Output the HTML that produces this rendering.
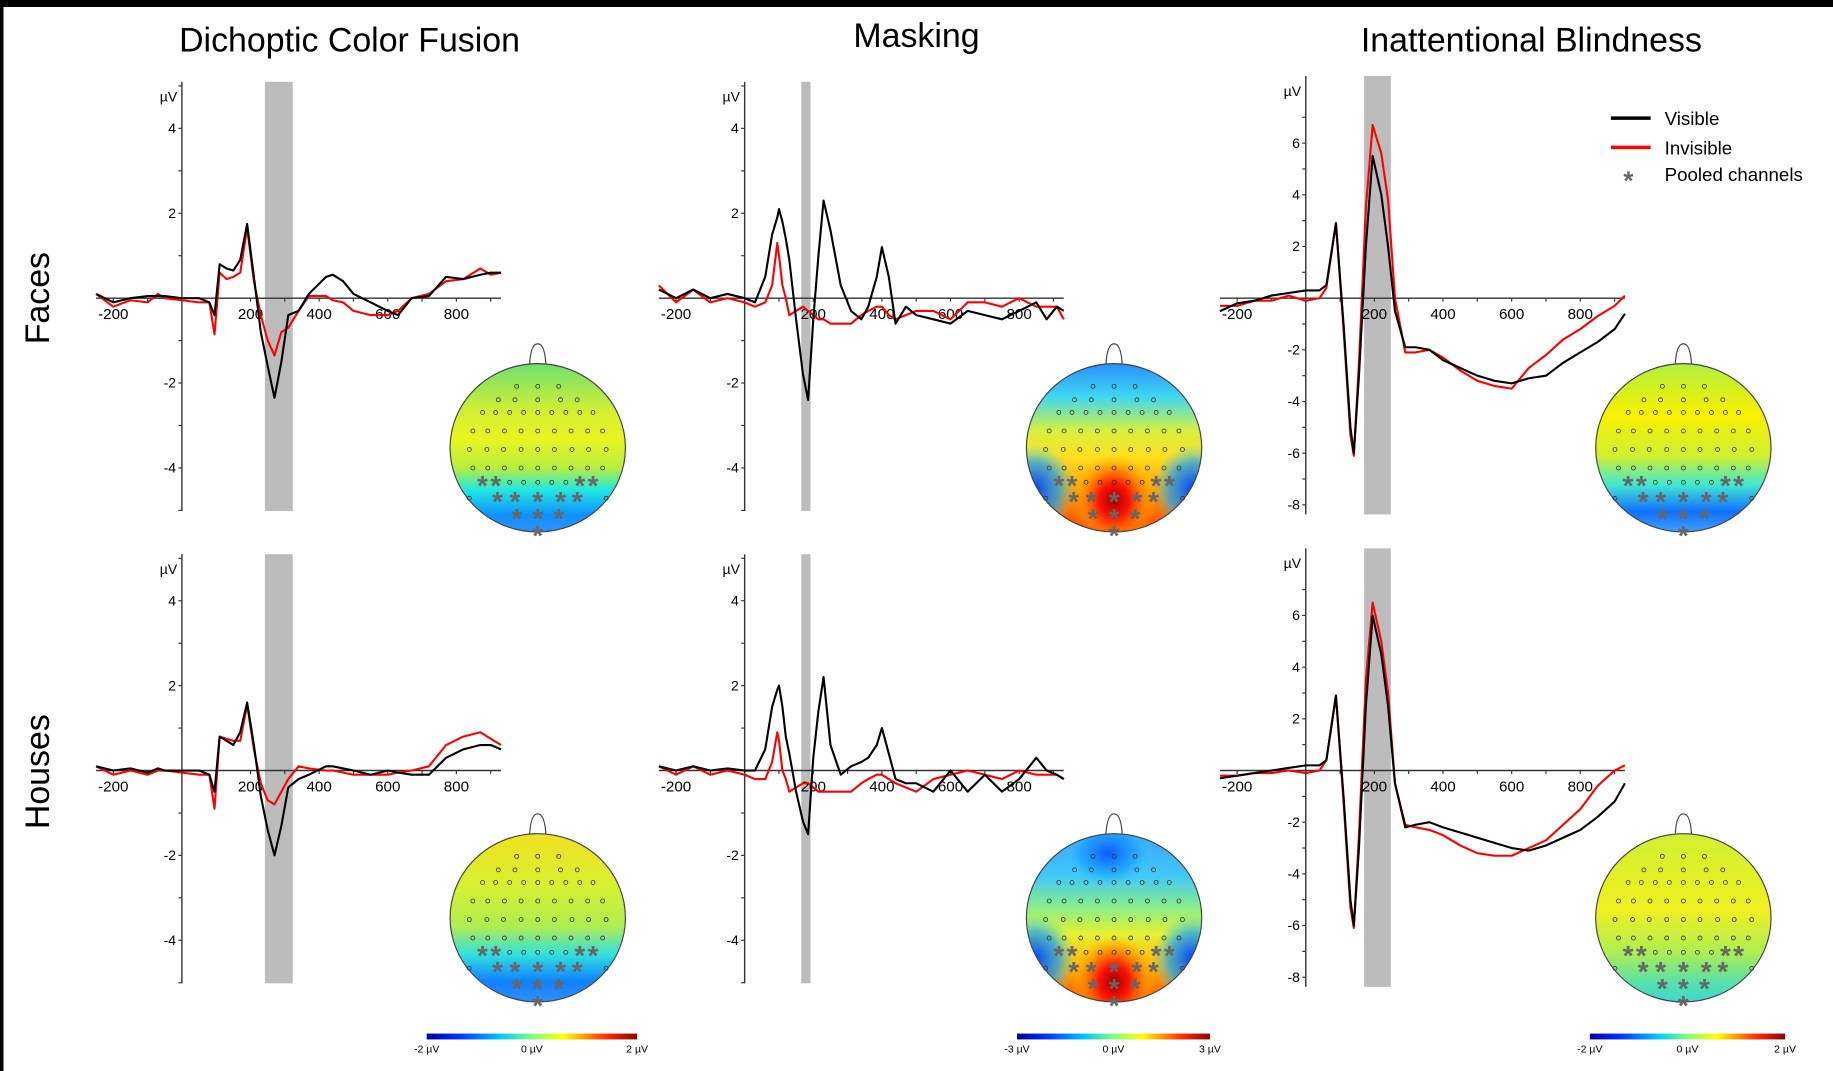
<!DOCTYPE html>
<html><head><meta charset="utf-8"><style>
html,body{margin:0;padding:0;background:#fff;}
svg{display:block;}
text{font-family:"Liberation Sans",sans-serif;}
</style></head><body>
<svg id="fig" width="1833" height="1071" viewBox="0 0 1568 916" preserveAspectRatio="none" xmlns="http://www.w3.org/2000/svg">
<defs>
<linearGradient id="jet" x1="0" x2="1" y1="0" y2="0">
<stop offset="0" stop-color="#0000a0"/><stop offset="0.15" stop-color="#0030ff"/><stop offset="0.35" stop-color="#00c8ff"/><stop offset="0.5" stop-color="#80ff80"/><stop offset="0.65" stop-color="#ffff00"/><stop offset="0.85" stop-color="#ff3000"/><stop offset="1" stop-color="#900000"/>
</linearGradient>
<linearGradient id="gDCF" x1="0" x2="0" y1="0" y2="1">
<stop offset="0" stop-color="#6fe070"/><stop offset="0.3" stop-color="#d8f030"/><stop offset="0.45" stop-color="#e8f420"/><stop offset="0.62" stop-color="#b8ee40"/><stop offset="0.75" stop-color="#20e8e0"/><stop offset="0.9" stop-color="#1090ff"/><stop offset="1" stop-color="#3090ff"/>
</linearGradient>
<linearGradient id="gDCFh" x1="0" x2="0" y1="0" y2="1">
<stop offset="0" stop-color="#f0e020"/><stop offset="0.3" stop-color="#d8f030"/><stop offset="0.55" stop-color="#b0ee50"/><stop offset="0.72" stop-color="#30e0e0"/><stop offset="0.88" stop-color="#1080ff"/><stop offset="1" stop-color="#3090ff"/>
</linearGradient>
<linearGradient id="gMF" x1="0" x2="0" y1="0" y2="1">
<stop offset="0" stop-color="#2890ff"/><stop offset="0.2" stop-color="#40d8f0"/><stop offset="0.4" stop-color="#d8f040"/><stop offset="0.55" stop-color="#ffe020"/><stop offset="0.75" stop-color="#ffa000"/><stop offset="1" stop-color="#ff4000"/>
</linearGradient>
<linearGradient id="gMH" x1="0" x2="0" y1="0" y2="1">
<stop offset="0" stop-color="#40a0ff"/><stop offset="0.25" stop-color="#40c8f8"/><stop offset="0.45" stop-color="#90f080"/><stop offset="0.6" stop-color="#e8f030"/><stop offset="0.8" stop-color="#ffb000"/><stop offset="1" stop-color="#ff5000"/>
</linearGradient>
<linearGradient id="gIB" x1="0" x2="0" y1="0" y2="1">
<stop offset="0" stop-color="#b0f040"/><stop offset="0.3" stop-color="#f8f000"/><stop offset="0.55" stop-color="#d0f030"/><stop offset="0.72" stop-color="#40e8d0"/><stop offset="0.88" stop-color="#1070ff"/><stop offset="1" stop-color="#40a0ff"/>
</linearGradient>
<linearGradient id="gIBh" x1="0" x2="0" y1="0" y2="1">
<stop offset="0" stop-color="#d0f030"/><stop offset="0.45" stop-color="#f0f020"/><stop offset="0.7" stop-color="#b0ee50"/><stop offset="0.9" stop-color="#50e0b0"/><stop offset="1" stop-color="#40d8d0"/>
</linearGradient>
<radialGradient id="redBlob" cx="0.5" cy="0.5" r="0.5">
<stop offset="0" stop-color="#a00000"/><stop offset="0.35" stop-color="#ff1000"/><stop offset="0.7" stop-color="#ff8000" stop-opacity="0.7"/><stop offset="1" stop-color="#ffc000" stop-opacity="0"/>
</radialGradient>
<radialGradient id="blueBlob" cx="0.5" cy="0.5" r="0.5">
<stop offset="0" stop-color="#0040ff"/><stop offset="0.6" stop-color="#10a0ff" stop-opacity="0.7"/><stop offset="1" stop-color="#40e0ff" stop-opacity="0"/>
</radialGradient>
</defs>
<rect x="0" y="0" width="1568" height="916" fill="#fff"/>
<rect x="0" y="0" width="1568" height="6" fill="#000"/>
<rect x="0" y="0" width="3" height="916" fill="#000"/>
<text x="299" y="44" font-size="29" text-anchor="middle">Dichoptic Color Fusion</text>
<text x="784" y="40" font-size="29" text-anchor="middle">Masking</text>
<text x="1310" y="44" font-size="29" text-anchor="middle">Inattentional Blindness</text>
<text transform="translate(42,255) rotate(-90)" font-size="29" text-anchor="middle">Faces</text>
<text transform="translate(42,660) rotate(-90)" font-size="29" text-anchor="middle">Houses</text>
<g id="legend">
<line x1="1378" y1="101" x2="1412" y2="101" stroke="#000" stroke-width="3"/>
<text x="1424" y="107" font-size="16">Visible</text>
<line x1="1378" y1="126" x2="1412" y2="126" stroke="#f00" stroke-width="3"/>
<text x="1424" y="132" font-size="16">Invisible</text>
<text x="1393" y="162" font-size="22" font-weight="bold" fill="#666" text-anchor="middle">*</text>
<text x="1424" y="155" font-size="16">Pooled channels</text>
</g>
</svg>
<script>
// ---- data ----
const t1 = [-250,-200,-150,-100,-70,-50,0,50,80,95,110,130,150,170,190,210,230,250,270,290,310,340,370,420,440,470,500,550,600,630,670,720,770,820,870,900,930];
const p1Visible = [0.1,-0.1,0,0.05,0.05,0.05,0,0,-0.1,-0.4,0.8,0.7,0.65,0.9,1.75,0.5,-0.8,-1.6,-2.35,-1.5,-0.4,-0.3,0.1,0.5,0.55,0.4,0.1,-0.1,-0.3,-0.4,0,0.05,0.5,0.45,0.55,0.6,0.6];
const p1Invisible = [0.1,-0.2,-0.05,-0.1,0.1,0,-0.05,-0.1,-0.1,-0.85,0.6,0.45,0.5,0.6,1.65,0.4,-0.4,-1.0,-1.35,-0.8,-0.7,-0.3,0.05,0.05,-0.05,-0.1,-0.3,-0.4,-0.4,-0.3,0,0.1,0.4,0.45,0.7,0.55,0.6];
const t2 = [-250,-200,-150,-100,-50,0,30,60,80,95,100,110,120,130,150,170,185,200,215,230,250,280,310,340,360,385,400,420,440,470,500,550,600,650,700,750,800,850,880,910,930];
const p2Visible = [0.2,0,0.2,0,0.1,0,-0.1,0.5,1.5,1.9,2.1,1.8,1.4,0.9,-0.5,-1.8,-2.4,-0.5,1.0,2.3,1.6,0.3,-0.3,-0.5,-0.2,0.5,1.2,0.5,-0.6,-0.2,-0.4,-0.5,-0.6,-0.3,-0.4,-0.5,-0.3,-0.1,-0.5,-0.2,-0.3];
const p2Invisible = [0.3,-0.1,0.2,-0.1,0,-0.1,-0.2,-0.1,0.3,1.3,1.0,0.3,0,-0.4,-0.3,-0.2,-0.3,-0.4,-0.5,-0.5,-0.6,-0.6,-0.6,-0.4,-0.3,-0.2,-0.2,-0.4,-0.5,-0.4,-0.3,-0.3,-0.5,-0.1,-0.1,-0.2,0,-0.2,-0.2,-0.2,-0.5];
const t3 = [-250,-200,-150,-100,-50,0,40,60,88,110,130,140,155,175,195,220,240,260,290,320,360,400,450,500,550,600,650,700,750,800,850,900,930];
const p3Visible = [-0.5,-0.2,-0.1,0.1,0.2,0.3,0.3,0.5,2.9,-1,-5,-6,-3,2,5.5,4,2,-0.5,-1.9,-1.9,-2,-2.4,-2.7,-3,-3.2,-3.3,-3.1,-3,-2.5,-2.1,-1.7,-1.2,-0.6];
const p3Invisible = [-0.3,-0.3,-0.1,-0.1,0.1,-0.1,0,0.4,2.9,-1.2,-5.3,-6.1,-2.5,3.5,6.7,5.6,3.8,0,-2.1,-2.1,-2.0,-2.3,-2.8,-3.2,-3.4,-3.5,-2.7,-2.2,-1.6,-1.2,-0.7,-0.3,0.1];
const p4Visible = [0.1,0,0.05,-0.05,0.05,0,0,0,-0.1,-0.5,0.8,0.7,0.6,0.9,1.6,0.6,-0.6,-1.4,-2.0,-1.3,-0.4,-0.2,-0.1,0.1,0.1,0.05,0,-0.1,0,-0.05,-0.1,-0.1,0.3,0.5,0.6,0.6,0.5];
const p4Invisible = [0.1,-0.1,0,-0.1,0,0,-0.05,-0.1,-0.1,-0.9,0.8,0.75,0.7,0.7,1.55,0.5,-0.3,-0.7,-0.8,-0.5,-0.2,0.1,0.05,0,0,-0.05,-0.1,-0.1,-0.1,-0.05,0,0.1,0.6,0.8,0.9,0.75,0.6];
const p5Visible = [0.1,0,0.1,0,0.05,0,0,0.5,1.5,1.9,2.0,1.5,0.8,0.4,-0.5,-1.2,-1.5,0.3,1.4,2.2,0.6,-0.1,0.1,0.2,0.3,0.6,1.0,0.4,-0.2,-0.3,-0.3,-0.5,0,-0.5,-0.1,-0.5,-0.2,0.3,0,-0.1,-0.2];
const p5Invisible = [0.1,-0.1,0.1,-0.1,0,-0.1,-0.2,-0.2,0.2,0.9,0.7,0,-0.2,-0.5,-0.4,-0.3,-0.3,-0.4,-0.5,-0.5,-0.5,-0.5,-0.5,-0.3,-0.2,-0.1,-0.1,-0.2,-0.3,-0.4,-0.5,-0.2,-0.1,0,-0.1,-0.2,0,-0.1,-0.1,-0.1,-0.2];
const p6Visible = [-0.3,-0.2,-0.1,0,0.1,0.2,0.2,0.4,2.9,-1,-5,-6,-3,2.5,6,4.5,2.5,-0.5,-2.2,-2.1,-2,-2.2,-2.4,-2.6,-2.8,-3,-3.1,-2.9,-2.6,-2.3,-1.8,-1.2,-0.5];
const p6Invisible = [-0.2,-0.2,-0.1,-0.1,0,-0.1,0,0.4,2.9,-1.2,-5.3,-6.1,-2.5,3.5,6.5,5,3,-0.5,-2.1,-2.2,-2.3,-2.5,-2.9,-3.2,-3.3,-3.3,-3.0,-2.7,-2.1,-1.5,-0.6,0,0.2];
const timeArrays = [t1,t2,t3,t1,t2,t3];
const visibleSeries = [p1Visible,p2Visible,p3Visible,p4Visible,p5Visible,p6Visible];
const invisibleSeries = [p1Invisible,p2Invisible,p3Invisible,p4Invisible,p5Invisible,p6Invisible];
const xTickLabels = [-200,200,400,600,800];
const yTicksSmall = [4,2,-2,-4];
const yTicksLarge = [6,4,2,-2,-4,-6,-8];
const bandsStart = [242,165,170,242,165,170];
const bandsEnd = [323,192,248,323,192,248];
const colorbarLabels = [["-2 µV","0 µV","2 µV"],["-3 µV","0 µV","3 µV"],["-2 µV","0 µV","2 µV"]];
const panelNames = ['faces-dichoptic','faces-masking','faces-inattentional','houses-dichoptic','houses-masking','houses-inattentional'];

// ---- layout ----
const NS='http://www.w3.org/2000/svg';
const svg=document.getElementById('fig');
function mk(tag,attrs,parent){const e=document.createElementNS(NS,tag);for(const k in attrs)e.setAttribute(k,attrs[k]);(parent||svg).appendChild(e);return e;}
const cols=[{ax:155.6,x0t:-250,x1t:930},{ax:637,x0t:-250,x1t:930},{ax:1117,x0t:-250,x1t:930}];
const rows=[{zero:255},{zero:659}];
const SX=0.2935;
const topoFill=['url(#gDCF)','url(#gMF)','url(#gIB)','url(#gDCFh)','url(#gMH)','url(#gIBh)'];
const topoCx=[460,953,1440];

for(let p=0;p<6;p++){
  const c=cols[p%3], r=rows[Math.floor(p/3)];
  const large=(p%3===2);
  const sy= large?22.1:36.3;
  const xs=t=>c.ax+t*SX;
  const ys=v=>r.zero-v*sy;
  const g=mk('g',{});
  
  
  const yTop=large? r.zero-190: r.zero-185, yBot=large? r.zero+185 : r.zero+182;
  const band=mk('rect',{x:xs(bandsStart[p]),y:yTop,width:xs(bandsEnd[p])-xs(bandsStart[p]),height:yBot-yTop,fill:'#bcbcbc'},g);
  
  
  const ya=mk('line',{x1:c.ax,y1:yTop,x2:c.ax,y2:yBot,stroke:'#333','stroke-width':1.2},g);
  
  
  const yl=mk('text',{x:c.ax-4,y:yTop+17,'font-size':12,'text-anchor':'end'},g);yl.textContent='µV';
  
  
  const ticks=large?yTicksLarge:yTicksSmall;
  for(let v=-9;v<=7;v+=1){const y=ys(v);if(y<yTop||y>yBot)continue;mk('line',{x1:c.ax-3,y1:y,x2:c.ax,y2:y,stroke:'#333','stroke-width':1},g);}
  ticks.forEach(v=>{const t=mk('text',{x:c.ax-5,y:ys(v)+4,'font-size':12,'text-anchor':'end'},g);t.textContent=v;
    
    });
  const xa=mk('line',{x1:xs(c.x0t),y1:r.zero,x2:xs(c.x1t),y2:r.zero,stroke:'#333','stroke-width':1.2},g);
  
  
  for(let t=-200;t<=900;t+=100)mk('line',{x1:xs(t),y1:r.zero,x2:xs(t),y2:r.zero+3,stroke:'#333'},g);
  xTickLabels.forEach(t=>{const e=mk('text',{x:xs(t),y:r.zero+18,'font-size':13,'text-anchor':'middle'},g);e.textContent=t;
    
    });
  [[invisibleSeries[p],'#f00','invisible-line'],[visibleSeries[p],'#000','visible-line']].forEach(([vals,col,nm])=>{
    const tt=timeArrays[p];
    const d=tt.map((t,i)=>(i?'L':'M')+xs(t).toFixed(1)+' '+ys(vals[i]).toFixed(1)).join(' ');
    const pth=mk('path',{d:d,fill:'none',stroke:col,'stroke-width':1.8,'stroke-linejoin':'round'},g);
    
    
  });
  const cx=topoCx[p%3], cy=r.zero+(p<3?128:126), rx=75, ry=72;
  const tg=mk('g',{},g);
  
  
  const cid='clip'+p;
  const cp=mk('clipPath',{id:cid},tg);mk('ellipse',{cx:cx,cy:cy,rx:rx,ry:ry},cp);
  mk('path',{d:`M${cx-7} ${cy-ry+1} Q${cx-6} ${cy-ry-17} ${cx} ${cy-ry-17} Q${cx+6} ${cy-ry-17} ${cx+7} ${cy-ry+1}`,fill:'#fff',stroke:'#444','stroke-width':1},tg);
  mk('ellipse',{cx:cx,cy:cy,rx:rx,ry:ry,fill:topoFill[p]},tg);
  const cg=mk('g',{'clip-path':`url(#${cid})`},tg);
  if(p%3===1){
    mk('ellipse',{cx:cx,cy:cy+(p<3?45:55),rx:36,ry:40,fill:'url(#redBlob)'},cg);
    mk('ellipse',{cx:cx-68,cy:cy+35,rx:35,ry:38,fill:'url(#blueBlob)'},cg);
    mk('ellipse',{cx:cx+68,cy:cy+35,rx:35,ry:38,fill:'url(#blueBlob)'},cg);
    if(p===4)mk('ellipse',{cx:cx-5,cy:cy-55,rx:40,ry:30,fill:'url(#blueBlob)',opacity:0.8},cg);
  }
  mk('ellipse',{cx:cx,cy:cy,rx:rx,ry:ry,fill:'none',stroke:'#444','stroke-width':1},tg);
  const er=[[-0.73,[-0.24,0,0.24],''],[-0.57,[-0.45,-0.26,0,0.26,0.45],''],[-0.42,[-0.63,-0.48,-0.32,-0.16,0,0.16,0.32,0.48,0.63],''],
    [-0.2,[-0.74,-0.57,-0.38,-0.19,0,0.19,0.38,0.57,0.74],''],[0.02,[-0.78,-0.58,-0.39,-0.19,0,0.19,0.39,0.58,0.78],''],
    [0.24,[-0.74,-0.57,-0.38,-0.19,0,0.19,0.38,0.57,0.74],''],[0.41,[-0.63,-0.48,-0.32,-0.16,0,0.16,0.32,0.48,0.63],'AA.....AA'],
    [0.6,[-0.78,-0.46,-0.26,0,0.26,0.45,0.78],'.AAAAA.'],[0.8,[-0.24,0,0.24],'AAA'],[1.0,[0],'A']];
  er.forEach(([ny,xsArr,pat])=>xsArr.forEach((nx,i)=>{
    const px=cx+nx*rx, py=cy+ny*ry;
    if(pat&&pat[i]==='A'){const a=mk('text',{x:px,y:py+11,'font-size':24,'font-weight':'bold',fill:'#666','text-anchor':'middle'},tg);a.textContent='*';}
    else mk('circle',{cx:px,cy:py,r:1.7,fill:'none',stroke:'#333','stroke-width':0.7},tg);
  }));
}
const cbX=[365,870,1360], cbW=[180,165,167];
for(let i=0;i<3;i++){
  const g=mk('g',{});
  
  
  mk('rect',{x:cbX[i],y:884,width:cbW[i],height:5,fill:'url(#jet)'},g);
  [0,0.5,1].forEach((f,k)=>{const t=mk('text',{x:cbX[i]+f*cbW[i],y:900,'font-size':9,'text-anchor':'middle'},g);t.textContent=colorbarLabels[i][k];});
}
</script>
</body></html>
